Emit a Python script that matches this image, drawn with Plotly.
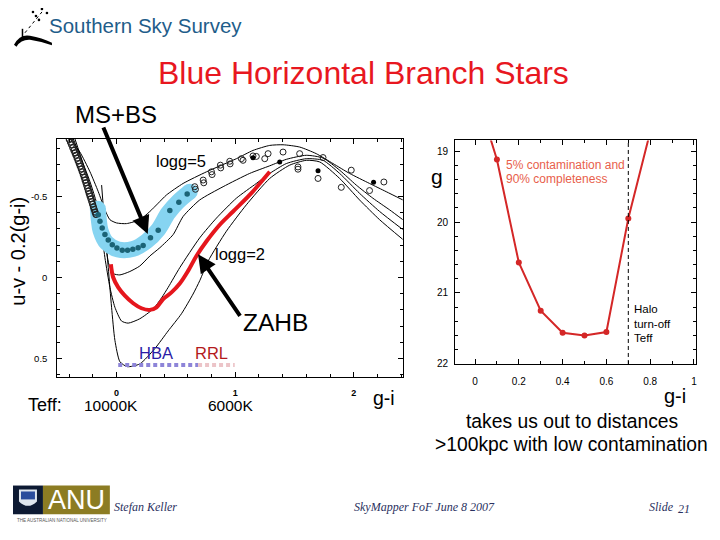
import plotly.graph_objects as go

# ---------------- data: left panel (u-v - 0.2(g-i) vs g-i) ----------------
curveA_x = [-0.393, -0.309, -0.224, -0.154, -0.098, -0.056, 0.0, 0.084, 0.196, 0.281, 0.351, 0.421, 0.561, 0.758, 1.010, 1.150, 1.291, 1.403, 1.543, 1.683, 1.824, 1.964, 2.132, 2.273, 2.413]
curveA_y = [-0.857, -0.775, -0.653, -0.530, -0.418, -0.357, -0.337, -0.333, -0.357, -0.408, -0.459, -0.510, -0.581, -0.653, -0.734, -0.785, -0.816, -0.820, -0.806, -0.765, -0.704, -0.643, -0.581, -0.530, -0.479]

curveB_x = [-0.365, -0.224, -0.140, -0.098, -0.065, -0.028, 0.028, 0.112, 0.196, 0.281, 0.365, 0.477, 0.561, 0.701, 0.898, 1.122, 1.291, 1.431, 1.599, 1.740, 1.880, 2.020, 2.160, 2.301, 2.413]
curveB_y = [-0.857, -0.592, -0.388, -0.224, -0.082, -0.024, -0.016, -0.037, -0.071, -0.133, -0.184, -0.265, -0.377, -0.479, -0.561, -0.643, -0.690, -0.730, -0.755, -0.738, -0.663, -0.571, -0.490, -0.418, -0.357]

curveC_x = [-0.351, -0.224, -0.140, -0.098, -0.056, -0.014, 0.042, 0.098, 0.196, 0.309, 0.379, 0.435, 0.533, 0.701, 0.842, 1.010, 1.178, 1.291, 1.431, 1.599, 1.740, 1.880, 2.048, 2.217, 2.413]
curveC_y = [-0.857, -0.571, -0.347, -0.122, 0.061, 0.184, 0.269, 0.282, 0.255, 0.194, 0.126, 0.061, -0.061, -0.245, -0.367, -0.490, -0.581, -0.643, -0.704, -0.734, -0.724, -0.643, -0.520, -0.408, -0.296]

curveD_x = [-0.126, -0.098, -0.070, -0.042, -0.014, 0.028, 0.090, 0.196, 0.323, 0.435, 0.547, 0.645, 0.701, 0.772, 0.926, 1.094, 1.291, 1.459, 1.599, 1.712, 1.880, 2.048, 2.217, 2.413]
curveD_y = [-0.571, -0.306, -0.061, 0.184, 0.388, 0.520, 0.551, 0.534, 0.439, 0.330, 0.224, 0.102, 0.020, -0.102, -0.286, -0.449, -0.612, -0.694, -0.724, -0.714, -0.612, -0.479, -0.357, -0.235]

zahb_x = [-0.048, -0.028, 0.014, 0.070, 0.140, 0.210, 0.281, 0.337, 0.393, 0.463, 0.533, 0.603, 0.673, 0.758, 0.870, 0.982, 1.122, 1.291]
zahb_y = [-0.082, 0.0, 0.061, 0.112, 0.159, 0.190, 0.200, 0.184, 0.133, 0.092, 0.037, -0.041, -0.133, -0.224, -0.326, -0.408, -0.510, -0.653]

msbs_band_x = [-0.158, -0.150, -0.135, -0.084, 0.014, 0.140, 0.253, 0.351, 0.435, 0.519, 0.617]
msbs_band_y = [-0.425, -0.360, -0.290, -0.214, -0.173, -0.177, -0.224, -0.296, -0.398, -0.469, -0.530]

band_dots_x = [-0.154, -0.140, -0.121, -0.098, -0.070, -0.036, 0.003, 0.048, 0.093, 0.137, 0.182, 0.224, 0.286, 0.351, 0.449, 0.525, 0.595]
band_dots_y = [-0.388, -0.347, -0.306, -0.265, -0.231, -0.202, -0.182, -0.169, -0.169, -0.175, -0.184, -0.198, -0.245, -0.292, -0.414, -0.465, -0.516]

branch_open_x = [-0.398, -0.388, -0.379, -0.369, -0.359, -0.350, -0.342, -0.332, -0.323, -0.314, -0.306, -0.297, -0.289, -0.280, -0.272, -0.265, -0.258, -0.251, -0.244, -0.237, -0.230, -0.223, -0.216, -0.209, -0.202, -0.195, -0.188, -0.181, -0.174]
branch_open_y = [-0.853, -0.836, -0.820, -0.802, -0.785, -0.770, -0.755, -0.737, -0.720, -0.703, -0.687, -0.670, -0.653, -0.635, -0.618, -0.601, -0.585, -0.568, -0.551, -0.534, -0.518, -0.502, -0.486, -0.469, -0.453, -0.436, -0.420, -0.404, -0.390]

upper_open_x = [0.659, 0.665, 0.730, 0.735, 0.800, 0.805, 0.875, 0.878, 0.954, 0.957, 1.052, 1.066, 1.150, 1.178, 1.249, 1.277, 1.403, 1.543, 1.740, 1.529, 1.529, 1.698, 1.894, 1.978, 2.132, 2.253]
upper_open_y = [-0.561, -0.545, -0.602, -0.585, -0.653, -0.636, -0.694, -0.677, -0.718, -0.702, -0.734, -0.724, -0.751, -0.748, -0.734, -0.765, -0.775, -0.765, -0.741, -0.683, -0.669, -0.612, -0.557, -0.663, -0.537, -0.590]

upper_filled_x = [1.375, 1.698, 2.166, 1.150]
upper_filled_y = [-0.714, -0.659, -0.588, -0.740]

hba_x = [0.014, 0.687]
rrl_x = [0.687, 0.996]
teff_bar_y = [0.540, 0.540]

# ---------------- data: right panel (g vs g-i) ----------------
gi_points = [0.1, 0.2, 0.3, 0.4, 0.5, 0.6, 0.7]
g_points = [19.12, 20.57, 21.25, 21.56, 21.60, 21.55, 19.95]
gi_line = [0.06, 0.1, 0.2, 0.3, 0.4, 0.5, 0.6, 0.7, 0.8]
g_line = [18.72, 19.12, 20.57, 21.25, 21.56, 21.60, 21.55, 19.95, 18.73]
turnoff_gi = 0.7

right_xticks = [0, 0.2, 0.4, 0.6, 0.8, 1]
right_xticktext = ["0", "0.2", "0.4", "0.6", "0.8", "1"]
right_yticks = [19, 20, 21, 22]
left_xticks = [0, 1, 2]
left_yticks = [-0.5, 0, 0.5]
left_yticktext = ["-0.5", "0", "0.5"]

SANS = "Liberation Sans, Arial, sans-serif"
SERIF = "Liberation Serif, Times New Roman, serif"

W, H = 720, 540
OFF = 8  # page body margin


def fx(p):
    return (p - OFF) / W


def fy(p):
    return 1 - (p - OFF) / H


fig = go.Figure()

thin = dict(color="black", width=1, shape="spline", smoothing=0.6)
for cx, cy in [(curveA_x, curveA_y), (curveB_x, curveB_y), (curveC_x, curveC_y), (curveD_x, curveD_y)]:
    fig.add_trace(go.Scatter(x=cx, y=cy, mode="lines", line=thin, xaxis="x", yaxis="y", hoverinfo="skip"))

# MS+BS blue band
fig.add_trace(go.Scatter(x=msbs_band_x, y=msbs_band_y, mode="lines",
                         line=dict(color="#86d4f1", width=16, shape="spline"), xaxis="x", yaxis="y"))
fig.add_trace(go.Scatter(x=[msbs_band_x[0], msbs_band_x[-1]], y=[msbs_band_y[0], msbs_band_y[-1]], mode="markers",
                         marker=dict(color="#86d4f1", size=16), xaxis="x", yaxis="y"))

# ZAHB
fig.add_trace(go.Scatter(x=zahb_x, y=zahb_y, mode="lines",
                         line=dict(color="#e5161d", width=4, shape="spline"), xaxis="x", yaxis="y"))

# data points
fig.add_trace(go.Scatter(x=branch_open_x, y=branch_open_y, mode="markers",
                         marker=dict(symbol="circle-open", size=6, color="#222222", line=dict(width=1.2)), xaxis="x", yaxis="y"))
fig.add_trace(go.Scatter(x=band_dots_x, y=band_dots_y, mode="markers",
                         marker=dict(size=5.5, color="#1b6376"), xaxis="x", yaxis="y"))
fig.add_trace(go.Scatter(x=upper_open_x, y=upper_open_y, mode="markers",
                         marker=dict(symbol="circle-open", size=6, color="#222222", line=dict(width=1)), xaxis="x", yaxis="y"))
fig.add_trace(go.Scatter(x=upper_filled_x, y=upper_filled_y, mode="markers",
                         marker=dict(size=5, color="black"), xaxis="x", yaxis="y"))

# HBA / RRL bars
fig.add_trace(go.Scatter(x=hba_x, y=teff_bar_y, mode="lines",
                         line=dict(color="#8d84d8", width=4, dash="4px,3px"), xaxis="x", yaxis="y"))
fig.add_trace(go.Scatter(x=rrl_x, y=teff_bar_y, mode="lines",
                         line=dict(color="#ecc4c8", width=4, dash="4px,3px"), xaxis="x", yaxis="y"))

# right panel
fig.add_trace(go.Scatter(x=gi_line, y=g_line, mode="lines", line=dict(color="#d42727", width=2),
                         xaxis="x2", yaxis="y2"))
fig.add_trace(go.Scatter(x=gi_points, y=g_points, mode="markers", marker=dict(color="#d42727", size=6),
                         xaxis="x2", yaxis="y2"))

# ---------------- layout ----------------
axis_common = dict(showgrid=False, zeroline=False, showline=True, linecolor="black", linewidth=1,
                   mirror="allticks", ticks="inside", tickcolor="black", ticklen=5, tickwidth=1)

shapes = []
annotations = []


def T(text, x, y, size, color="black", xanchor="center", family=SANS, **kw):
    annotations.append(dict(text=text, x=x, y=y, xref="x3", yref="y3", showarrow=False,
                            xanchor=xanchor, yanchor="middle",
                            font=dict(size=size, color=color, family=family), **kw))


# slide header
T("Southern Sky Survey", 47, 26, 20.5, "#1f5d8a", xanchor="left")
T("Blue Horizontal Branch Stars", 364, 74, 32, "#e8171f")
T("MS+BS", 116, 115, 24)
T("logg=5", 181, 162, 16.5)
T("logg=2", 240, 256, 16.5)
T("ZAHB", 276, 325, 24.5)
T("HBA", 156, 356, 16.5, "#2b1ca6")
T("RRL", 212, 356, 16.5, "#b3191c")
T("Teff:", 45, 409, 18)
T("10000K", 111, 409, 15.5)
T("6000K", 231, 409, 15.5)
T("g-i", 385, 402, 19.5)
T("u-v - 0.2(g-i)", 18, 253, 20, textangle=-90)
T("g", 438, 178, 21)
T("g-i", 676, 400, 20)
T("5% contamination and", 505, 166, 12, "#e8604b", xanchor="left")
T("90% completeness", 505, 181, 12, "#e8604b", xanchor="left")
T("Halo", 633, 312, 11.5, xanchor="left")
T("turn-off", 633, 327, 11.5, xanchor="left")
T("Teff", 633, 341, 11.5, xanchor="left")
T("takes us out to distances", 573, 425, 19.3)
T(">100kpc with low contamination", 572, 449, 19.3)
T("<i>Stefan Keller</i>", 112, 512, 12, "#2a3060", xanchor="left", family=SERIF)
T("<i>SkyMapper FoF June 8 2007</i>", 425, 512, 12, "#2a3060", family=SERIF)
T("<i>Slide</i>", 648, 512, 12, "#2a3060", xanchor="left", family=SERIF)
T("<i>21</i>", 685, 514, 12, "#2a3060", family=SERIF)
T("ANU", 77, 505, 27, "white")
T("THE AUSTRALIAN NATIONAL UNIVERSITY", 62, 525, 4.5, "#555555")

# arrows
annotations.append(dict(x=0.263, y=-0.269, xref="x", yref="y", ax=-45, ay=-108, text="",
                        showarrow=True, arrowhead=2, arrowsize=0.9, arrowwidth=4, arrowcolor="black"))
annotations.append(dict(x=0.687, y=-0.143, xref="x", yref="y", ax=43, ay=63, text="",
                        showarrow=True, arrowhead=2, arrowsize=0.9, arrowwidth=4, arrowcolor="black"))

# turn-off dashed line
shapes.append(dict(type="line", xref="x2", yref="y2 domain", x0=turnoff_gi, x1=turnoff_gi, y0=0, y1=1,
                   line=dict(color="black", width=1, dash="4px,3px")))

# Southern Sky Survey logo
shapes.append(dict(type="path", xref="x3", yref="y3",
                   path="M 14 45 Q 20 34 30 36 Q 42 38 52 43 L 52 45.5 Q 40 41.5 30 40 Q 21 39.5 16.5 47 Z",
                   fillcolor="black", line=dict(width=0)))
shapes.append(dict(type="line", xref="x3", yref="y3", x0=22.5, x1=22.5, y0=29, y1=39,
                   line=dict(color="black", width=1.5)))
shapes.append(dict(type="line", xref="x3", yref="y3", x0=25, x1=42, y0=33, y1=12,
                   line=dict(color="black", width=1, dash="dot")))
for sx, sy in [(33, 12), (42, 9), (47, 13), (39, 20), (36, 16)]:
    shapes.append(dict(type="circle", xref="x3", yref="y3", x0=sx - 1.3, x1=sx + 1.3, y0=sy - 1.3, y1=sy + 1.3,
                       fillcolor="black", line=dict(width=0)))

# ANU logo
shapes.append(dict(type="rect", xref="x3", yref="y3", x0=13, x1=43, y0=490, y1=519,
                   fillcolor="#0d1a33", line=dict(width=0), layer="below"))
shapes.append(dict(type="rect", xref="x3", yref="y3", x0=43, x1=110, y0=490, y1=519,
                   fillcolor="#8c7c23", line=dict(width=0), layer="below"))
shapes.append(dict(type="path", xref="x3", yref="y3",
                   path="M 19 494 L 37 494 L 37 506 Q 28 515 19 506 Z",
                   fillcolor="#dfe6ee", line=dict(width=0)))
shapes.append(dict(type="rect", xref="x3", yref="y3", x0=21, x1=35, y0=496, y1=504,
                   fillcolor="#2b4d9c", line=dict(width=0)))

fig.update_layout(
    width=W, height=H, autosize=False,
    margin=dict(l=0, r=0, t=0, b=0),
    paper_bgcolor="white", plot_bgcolor="rgba(0,0,0,0)",
    showlegend=False,
    font=dict(family=SANS, color="black"),
    xaxis=dict(domain=[fx(57.3), fx(403.3)], range=[-0.5, 2.412], anchor="y",
               tickvals=left_xticks, tickfont=dict(size=9, weight="bold"), ticklabelstandoff=8,
               minor=dict(dtick=0.2, tick0=0, ticks="inside", ticklen=3, tickcolor="black"), **axis_common),
    yaxis=dict(domain=[fy(380), fy(140)], range=[0.612, -0.857], anchor="x",
               tickvals=left_yticks, ticktext=left_yticktext, tickfont=dict(size=9.5), ticklabelstandoff=7,
               minor=dict(dtick=0.1, tick0=0, ticks="inside", ticklen=3, tickcolor="black"), **axis_common),
    xaxis2=dict(domain=[fx(455.7), fx(696.7)], range=[-0.091, 1.008], anchor="y2",
                tickvals=right_xticks, ticktext=right_xticktext, tickfont=dict(size=10), ticklabelstandoff=8,
                minor=dict(dtick=0.1, tick0=0, ticks="inside", ticklen=3, tickcolor="black"), **axis_common),
    yaxis2=dict(domain=[fy(367.3), fy(141.7)], range=[22, 18.851], anchor="x2",
                tickvals=right_yticks, tickfont=dict(size=10), ticklabelstandoff=4,
                minor=dict(dtick=0.2, tick0=19, ticks="inside", ticklen=3, tickcolor="black"), **axis_common),
    xaxis3=dict(domain=[0, 1], range=[OFF, OFF + W], visible=False, anchor="y3", fixedrange=True),
    yaxis3=dict(domain=[0, 1], range=[OFF + H, OFF], visible=False, anchor="x3", fixedrange=True),
    shapes=shapes,
    annotations=annotations,
)

fig.write_html("out.html", config=dict(displayModeBar=False))
